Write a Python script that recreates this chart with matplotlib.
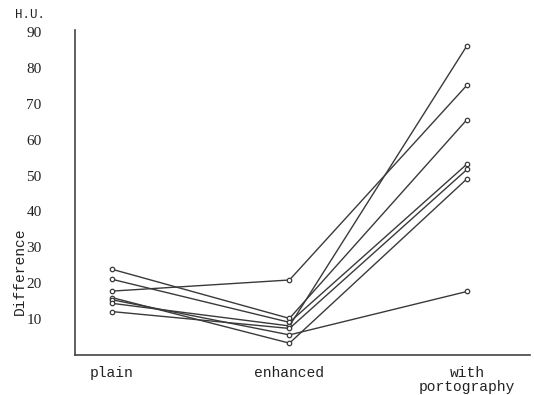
import matplotlib
matplotlib.use("Agg")
import matplotlib.pyplot as plt

categories = ["plain", "enhanced", "with\nportography"]
series = [
    [23.9, 10.2, 65.6],
    [21.1, 9.1, 53.2],
    [17.8, 20.9, 75.2],
    [16.0, 3.3, 49.1],
    [15.4, 5.6, 17.7],
    [14.4, 8.1, 86.2],
    [12.1, 7.4, 51.7],
]
yticks = [10, 20, 30, 40, 50, 60, 70, 80, 90]

W, H = 534, 395
fig = plt.figure(figsize=(W / 100, H / 100), dpi=100)
ax = fig.add_axes([75 / W, 1 - 355 / H, (530 - 75) / W, (355 - 30) / H])

x = list(range(len(categories)))
col = "#3a3a3a"
for s in series:
    ax.plot(x, s, color=col, lw=1.0, marker="o", ms=3.2, mfc="white", mec=col, mew=0.9)

ax.set_xlim(-0.208, 2.355)
ax.set_ylim(0, 90.56)
ax.set_xticks(x)
ax.set_xticklabels(categories, family="Liberation Mono", fontsize=10.5, linespacing=0.95)
ax.set_yticks(yticks)
ax.set_yticklabels([str(t) for t in yticks], family="Liberation Serif", fontsize=11)
ax.tick_params(axis="both", length=0, colors="#222222")
ax.tick_params(axis="y", pad=24)
ax.tick_params(axis="x", pad=8)
for sp in ["top", "right"]:
    ax.spines[sp].set_visible(False)
for sp in ["left", "bottom"]:
    ax.spines[sp].set_color("#444444")
    ax.spines[sp].set_linewidth(1.2)

fig.text(20 / W, 1 - 271 / H, "Difference", rotation=90, ha="center", va="center",
         family="Liberation Mono", fontsize=10.5, color="#222222")
fig.text(15 / W, 1 - 15 / H, "H.U.", ha="left", va="center",
         family="Liberation Mono", fontsize=9, color="#222222")

fig.savefig("out.png", dpi=100)
